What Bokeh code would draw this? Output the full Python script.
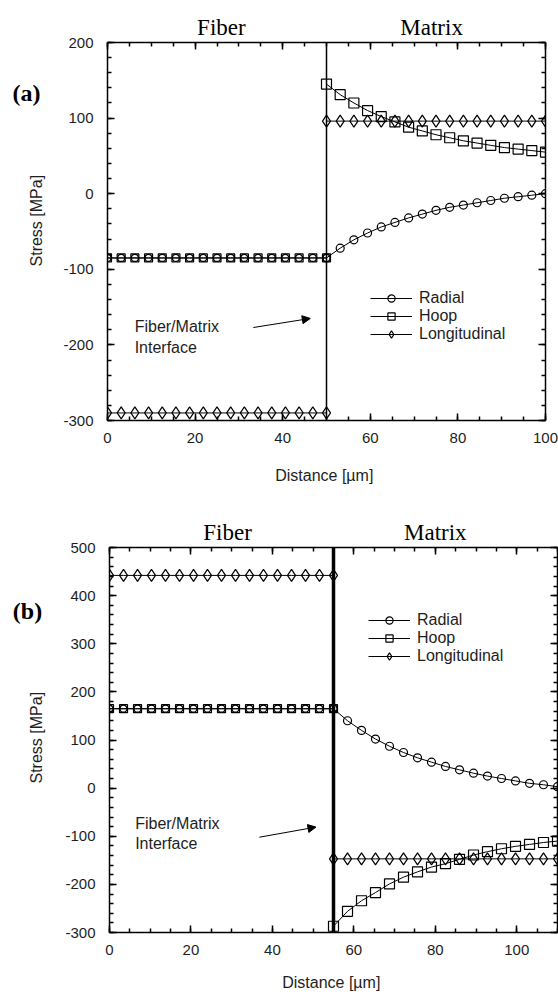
import math
from bokeh.plotting import figure
from bokeh.models import (Range1d, SingleIntervalTicker, FixedTicker, LinearAxis, Label,
                          Arrow, NormalHead, Legend, LegendItem, Span)
from bokeh.layouts import column, row
from bokeh.core.properties import value
from bokeh.embed import file_html
from bokeh.resources import INLINE

# ---------------- Panel (a) data ----------------
A_FIBER_X = [0, 3.125, 6.25, 9.375, 12.5, 15.625, 18.75, 21.875, 25, 28.125, 31.25,
             34.375, 37.5, 40.625, 43.75, 46.875, 50]
A_MATRIX_X = [50, 53.125, 56.25, 59.375, 62.5, 65.625, 68.75, 71.875, 75, 78.125, 81.25,
              84.375, 87.5, 90.625, 93.75, 96.875, 100]
A_FIBER_RADIAL = [-85, -85, -85, -85, -85, -85, -85, -85, -85, -85, -85, -85, -85, -85, -85, -85, -85]
A_FIBER_HOOP = [-85, -85, -85, -85, -85, -85, -85, -85, -85, -85, -85, -85, -85, -85, -85, -85, -85]
A_FIBER_LONG = [-290, -290, -290, -290, -290, -290, -290, -290, -290, -290, -290, -290, -290,
                -290, -290, -290, -290]
A_MATRIX_RADIAL = [-85, -72, -61, -52, -44, -38, -32, -27, -22, -18, -15, -12, -9, -6, -4, -2, 0]
A_MATRIX_HOOP = [145, 131, 120, 110, 102, 95, 88, 83, 78, 74, 70, 67, 64, 61, 59, 57, 55]
A_MATRIX_LONG = [96, 96, 96, 96, 96, 96, 96, 96, 96, 96, 96, 96, 96, 96, 96, 96, 96]

# ---------------- Panel (b) data ----------------
B_FIBER_X = [0, 3.44, 6.88, 10.31, 13.75, 17.19, 20.63, 24.06, 27.5, 30.94, 34.38, 37.81,
             41.25, 44.69, 48.13, 51.56, 55]
B_MATRIX_X = [55, 58.44, 61.88, 65.31, 68.75, 72.19, 75.63, 79.06, 82.5, 85.94, 89.38, 92.81,
              96.25, 99.69, 103.13, 106.56, 110]
B_FIBER_RADIAL = [165, 165, 165, 165, 165, 165, 165, 165, 165, 165, 165, 165, 165, 165, 165, 165, 165]
B_FIBER_HOOP = [165, 165, 165, 165, 165, 165, 165, 165, 165, 165, 165, 165, 165, 165, 165, 165, 165]
B_FIBER_LONG = [442, 442, 442, 442, 442, 442, 442, 442, 442, 442, 442, 442, 442, 442, 442, 442, 442]
B_MATRIX_RADIAL = [165, 140, 120, 102, 87, 74, 63, 54, 45, 38, 31, 25, 20, 15, 10, 7, 3]
B_MATRIX_HOOP = [-287, -256, -234, -217, -199, -185, -174, -164, -157, -148, -139, -132,
                 -126, -121, -117, -113, -110]
B_MATRIX_LONG = [-147, -147, -147, -147, -147, -147, -147, -147, -147, -147, -147, -147,
                 -147, -147, -147, -147, -147]

SERIES_NAMES = ["Radial", "Hoop", "Longitudinal"]
REGION_NAMES = ["Fiber", "Matrix"]
TICK_FONT = "Liberation Sans"
SERIF = "Liberation Serif"
SIDE_W = 58
TXT = "#1e1e1e"


def style_axis(ax, show_labels=True):
    ax.axis_line_width = 1.5
    ax.axis_line_color = "black"
    ax.major_tick_in = 7
    ax.major_tick_out = 0
    ax.minor_tick_in = 4
    ax.minor_tick_out = 0
    ax.major_tick_line_color = "black"
    ax.minor_tick_line_color = "black"
    ax.major_tick_line_width = 1.5
    ax.minor_tick_line_width = 1.5
    ax.major_label_text_font = TICK_FONT
    ax.major_label_text_font_size = "15px"
    ax.major_label_text_color = TXT
    ax.axis_label_text_font = TICK_FONT
    ax.axis_label_text_font_size = "16px"
    ax.axis_label_text_font_style = "normal"
    ax.axis_label_text_color = TXT
    if not show_labels:
        ax.major_label_text_font_size = "0px"
        ax.major_label_text_color = None
        ax.major_label_standoff = 0


def make_side(height, tag, tag_xy, ylab_xy):
    s = figure(width=SIDE_W, height=height, x_range=Range1d(0, SIDE_W),
               y_range=Range1d(height, 0), output_backend="svg", toolbar_location=None,
               x_axis_location=None, y_axis_location=None,
               min_border_left=0, min_border_right=0, min_border_top=0, min_border_bottom=0)
    s.grid.visible = False
    s.outline_line_color = None
    s.background_fill_color = "white"
    s.border_fill_color = "white"
    s.text(x=[tag_xy[0]], y=[tag_xy[1]], text=[tag], text_font=value(SERIF),
           text_font_style="bold", text_font_size="24px", text_align="center",
           text_baseline="middle", text_color="black")
    s.text(x=[ylab_xy[0]], y=[ylab_xy[1]], text=["Stress [MPa]"], angle=math.pi / 2,
           text_font=value(TICK_FONT), text_font_size="16px", text_align="center",
           text_baseline="middle", text_color=TXT)
    return s


def make_panel(width, height, xr, yr, borders, fx, mx, fib, mat, iface_x, iface_w,
               region_ticks, xlab_standoff, note_pos, arrow, legend_loc):
    p = figure(width=width, height=height, x_range=Range1d(*xr), y_range=Range1d(*yr),
               output_backend="svg", toolbar_location=None,
               min_border_left=borders[0], min_border_right=borders[1],
               min_border_top=borders[2], min_border_bottom=borders[3])
    p.xgrid.visible = False
    p.ygrid.visible = False
    p.outline_line_color = "black"
    p.outline_line_width = 1
    p.background_fill_color = "white"
    p.border_fill_color = "white"

    xt = SingleIntervalTicker(interval=20, num_minor_ticks=4)
    yt = SingleIntervalTicker(interval=100, num_minor_ticks=5)

    xa = p.xaxis[0]
    xa.ticker = xt
    style_axis(xa)
    xa.axis_label = "Distance  [\u00b5m]"
    xa.major_label_standoff = 12
    xa.axis_label_standoff = xlab_standoff

    ya = p.yaxis[0]
    ya.ticker = yt
    style_axis(ya)
    ya.major_label_standoff = 14
    ya.major_label_overrides = {-100: "-100", -200: "-200", -300: "-300"}

    top = LinearAxis(ticker=xt)
    style_axis(top, False)
    p.add_layout(top, "above")

    reg = LinearAxis(ticker=FixedTicker(ticks=region_ticks))
    reg.axis_line_color = None
    reg.major_tick_line_color = None
    reg.minor_tick_line_color = None
    reg.major_tick_in = 0
    reg.major_tick_out = 0
    reg.major_label_standoff = 3
    reg.major_label_text_font = SERIF
    reg.major_label_text_font_size = "23px"
    reg.major_label_text_color = "black"
    reg.major_label_overrides = {region_ticks[0]: REGION_NAMES[0],
                                 region_ticks[1]: REGION_NAMES[1]}
    p.add_layout(reg, "above")

    right = LinearAxis(ticker=yt)
    style_axis(right, False)
    p.add_layout(right, "right")

    p.add_layout(Span(location=iface_x, dimension="height", line_color="black",
                      line_width=iface_w))

    markers = ["circle", "square", "diamond"]
    sizes_f = [7, 8, 12]
    sizes_m = [8, 10, 12]
    items = []
    for i, name in enumerate(SERIES_NAMES):
        p.line(fx, fib[i], line_color="black", line_width=1)
        p.scatter(fx, fib[i], marker=markers[i], size=sizes_f[i], fill_color=None,
                  line_color="black", line_width=1.2)
        lr = p.line(mx, mat[i], line_color="black", line_width=1)
        sr = p.scatter(mx, mat[i], marker=markers[i], size=sizes_m[i], fill_color=None,
                       line_color="black", line_width=1.2)
        items.append(LegendItem(label=name, renderers=[lr, sr]))

    leg = Legend(items=items, location=legend_loc, border_line_color=None,
                 background_fill_alpha=0, padding=0, margin=0, spacing=0,
                 glyph_width=42, glyph_height=18, label_height=18, label_standoff=7,
                 label_text_font=TICK_FONT, label_text_font_size="16px",
                 label_text_color=TXT)
    p.add_layout(leg)

    p.add_layout(Label(x=note_pos[0], y=note_pos[1], text="Fiber/Matrix",
                       text_font=TICK_FONT, text_font_size="16px", text_color=TXT,
                       text_align="left", text_baseline="middle"))
    p.add_layout(Label(x=note_pos[0], y=note_pos[2], text="Interface",
                       text_font=TICK_FONT, text_font_size="16px", text_color=TXT,
                       text_align="left", text_baseline="middle"))
    p.add_layout(Arrow(end=NormalHead(size=8, fill_color="black", line_color="black"),
                       x_start=arrow[0], y_start=arrow[1], x_end=arrow[2], y_end=arrow[3],
                       line_color="black", line_width=1))
    return p


H_A = 490
H_B = 506

side_a = make_side(H_A, "(a)", (26, 66), (36, 231))
pa = make_panel(558 - SIDE_W, H_A, (0, 100), (-300, 200), (107 - SIDE_W, 13, 42, 70),
                A_FIBER_X, A_MATRIX_X,
                [A_FIBER_RADIAL, A_FIBER_HOOP, A_FIBER_LONG],
                [A_MATRIX_RADIAL, A_MATRIX_HOOP, A_MATRIX_LONG],
                50, 1.5, [26, 74], 21,
                (6.2, -176, -204), (33.3, -177, 46.3, -165), (263, 77))

side_b = make_side(H_B, "(b)", (27, 84), (36, 250))
pb = make_panel(558 - SIDE_W, H_B, (0, 110), (-300, 500), (109 - SIDE_W, 1, 57, 64),
                B_FIBER_X, B_MATRIX_X,
                [B_FIBER_RADIAL, B_FIBER_HOOP, B_FIBER_LONG],
                [B_MATRIX_RADIAL, B_MATRIX_HOOP, B_MATRIX_LONG],
                55, 3.5, [29, 80], 16,
                (6.3, -73, -116), (36.8, -102, 50.7, -81), (259, 267))

layout = column(row(side_a, pa), row(side_b, pb))
open("out.html", "w").write(file_html(layout, INLINE))
